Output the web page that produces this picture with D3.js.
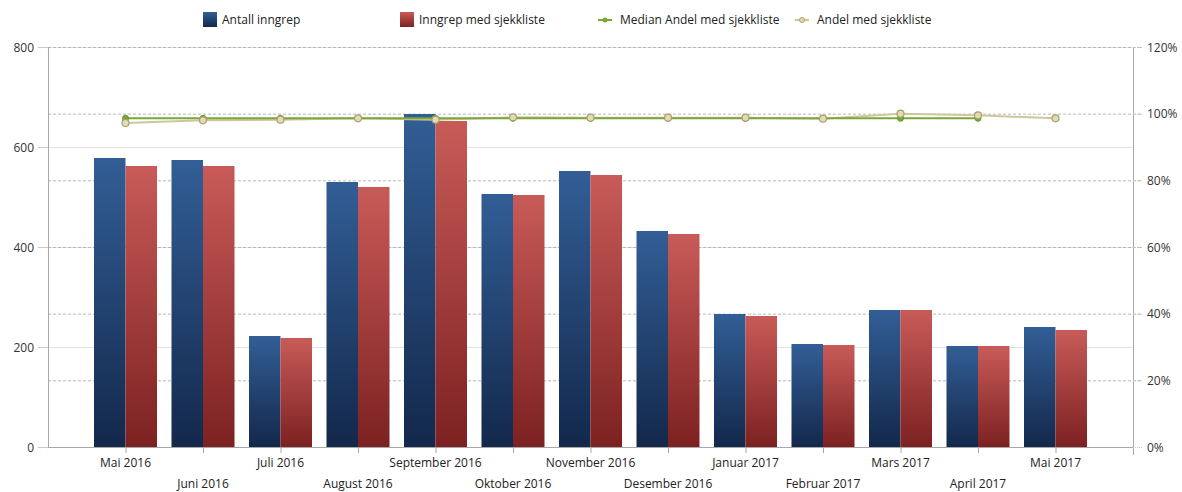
<!DOCTYPE html>
<html><head><meta charset="utf-8">
<script src="https://cdn.jsdelivr.net/npm/d3@7"></script>
<style>body{margin:0;background:#fff}svg{font-family:"Open Sans",sans-serif}</style>
</head><body>
<svg id="c" width="1182" height="492"></svg>
<script>
const months = ["Mai 2016","Juni 2016","Juli 2016","August 2016","September 2016","Oktober 2016","November 2016","Desember 2016","Januar 2017","Februar 2017","Mars 2017","April 2017","Mai 2017"];
const antall = [578,574,222,530,666,506,552,432,266,206,274,202,240];
const medSjekk = [562,562,218,520,652,504,544,426,262,204,274,202,234];
const andel = [97.2,98.0,98.2,98.6,98.2,98.9,98.8,98.8,98.8,98.5,100,99.5,98.6];
const median = [98.6,98.6,98.6,98.6,98.6,98.6,98.6,98.6,98.6,98.6,98.6,98.6,null];
const leftTicks = [0,200,400,600,800];
const rightTicks = [0,20,40,60,80,100,120];
const legendLabels = ["Antall inngrep","Inngrep med sjekkliste","Median Andel med sjekkliste","Andel med sjekkliste"];

const svg = d3.select("#c");
const L = 48, R = 1133, T = 47, B = 447;
const x = d3.scalePoint().domain(months).range([L, R]).padding(1);
const yL = d3.scaleLinear().domain([0, 800]).range([B, T]);
const yR = d3.scaleLinear().domain([0, 120]).range([B, T]);
const bw = 31.5;

const defs = svg.append("defs");
function grad(id, c1, c2) {
  const g = defs.append("linearGradient").attr("id", id).attr("x1",0).attr("y1",0).attr("x2",0).attr("y2",1);
  g.append("stop").attr("offset","0%").attr("stop-color",c1);
  g.append("stop").attr("offset","100%").attr("stop-color",c2);
}
grad("gb", "#325e96", "#13284b");
grad("gr", "#c85b58", "#7c2121");

// left gridlines (solid)
svg.append("g").selectAll("line").data(leftTicks.filter(d => d > 0)).join("line")
  .attr("x1", L).attr("x2", R).attr("y1", d => yL(d) + 0.5).attr("y2", d => yL(d) + 0.5)
  .attr("stroke", "#e2e2e2");
// right gridlines (dashed)
svg.append("g").selectAll("line").data(rightTicks.filter(d => d > 0)).join("line")
  .attr("x1", L).attr("x2", R + 8).attr("y1", d => yR(d) + 0.5).attr("y2", d => yR(d) + 0.5)
  .attr("stroke", "#b8b8b8").attr("stroke-dasharray", "3,2");

// bars
svg.append("g").selectAll("rect").data(months).join("rect")
  .attr("x", d => x(d) - bw).attr("width", bw)
  .attr("y", (d, i) => yL(antall[i])).attr("height", (d, i) => B - yL(antall[i]))
  .attr("fill", "url(#gb)");
svg.append("g").selectAll("rect").data(months).join("rect")
  .attr("x", d => x(d)).attr("width", bw)
  .attr("y", (d, i) => yL(medSjekk[i])).attr("height", (d, i) => B - yL(medSjekk[i]))
  .attr("fill", "url(#gr)");

// axes lines
svg.append("line").attr("x1", L + 0.5).attr("x2", L + 0.5).attr("y1", T).attr("y2", B).attr("stroke", "#a8a8a8");
svg.append("line").attr("x1", R + 0.5).attr("x2", R + 0.5).attr("y1", T).attr("y2", B + 8).attr("stroke", "#a8a8a8");
svg.append("line").attr("x1", L).attr("x2", R).attr("y1", B + 0.5).attr("y2", B + 0.5).attr("stroke", "#a8a8a8");

// left ticks and labels
const gl = svg.append("g");
gl.selectAll("line").data(leftTicks).join("line")
  .attr("x1", L - 10).attr("x2", L).attr("y1", d => yL(d) + 0.5).attr("y2", d => yL(d) + 0.5)
  .attr("stroke", "#c8c8c8");
gl.selectAll("text").data(leftTicks).join("text")
  .attr("x", 34).attr("y", d => yL(d) + 4.5).attr("text-anchor", "end")
  .attr("font-size", 12).attr("fill", "#333").text(d => d);

// right labels
const gr = svg.append("g");
gr.selectAll("line").data(rightTicks).join("line")
  .attr("x1", R).attr("x2", R + 10).attr("y1", d => yR(d) + 0.5).attr("y2", d => yR(d) + 0.5)
  .attr("stroke", "#c8c8c8").attr("stroke-dasharray", "1,1");
gr.selectAll("text").data(rightTicks).join("text")
  .attr("x", 1147).attr("y", d => yR(d) + 4.5)
  .attr("font-size", 12).attr("fill", "#333").text(d => d + "%");

// x ticks and labels
const gx = svg.append("g");
gx.selectAll("line").data(months).join("line")
  .attr("x1", d => x(d) + 0.5).attr("x2", d => x(d) + 0.5).attr("y1", B).attr("y2", B + 6)
  .attr("stroke", "#a8a8a8");
gx.selectAll("text").data(months).join("text")
  .attr("x", d => x(d)).attr("y", (d, i) => i % 2 === 0 ? 467 : 488)
  .attr("text-anchor", "middle").attr("font-size", 12).attr("fill", "#222").text(d => d);

// lines
const andelC = "#cfc79a", medC = "#7aa63a";
const lineA = d3.line().x((d, i) => x(months[i])).y(d => yR(d)).defined(d => d != null);
svg.append("path").datum(andel).attr("d", lineA).attr("fill", "none").attr("stroke", andelC).attr("stroke-width", 2);
svg.append("path").datum(median).attr("d", lineA).attr("fill", "none").attr("stroke", medC).attr("stroke-width", 2);
svg.append("g").selectAll("circle").data(median.map((v, i) => [v, i]).filter(d => d[0] != null)).join("circle")
  .attr("cx", d => x(months[d[1]])).attr("cy", d => yR(d[0])).attr("r", 3)
  .attr("fill", medC).attr("stroke", "#6b9430");
svg.append("g").selectAll("circle").data(andel).join("circle")
  .attr("cx", (d, i) => x(months[i])).attr("cy", d => yR(d)).attr("r", 3.5)
  .attr("fill", "#e2dcb4").attr("stroke", "#a8a070").attr("stroke-width", 1.2);

// legend
const lg = svg.append("g").attr("font-size", 12).attr("fill", "#222");
lg.append("rect").attr("x", 203).attr("y", 12).attr("width", 14).attr("height", 15).attr("fill", "url(#gb)");
lg.append("text").attr("x", 222).attr("y", 24).text(legendLabels[0]);
lg.append("rect").attr("x", 400).attr("y", 12).attr("width", 14).attr("height", 15).attr("fill", "url(#gr)");
lg.append("text").attr("x", 419).attr("y", 24).text(legendLabels[1]);
lg.append("line").attr("x1", 598).attr("x2", 612).attr("y1", 20).attr("y2", 20).attr("stroke", medC).attr("stroke-width", 2);
lg.append("circle").attr("cx", 605).attr("cy", 20).attr("r", 2.5).attr("fill", medC);
lg.append("text").attr("x", 620).attr("y", 24).text(legendLabels[2]);
lg.append("line").attr("x1", 795).attr("x2", 809).attr("y1", 20).attr("y2", 20).attr("stroke", andelC).attr("stroke-width", 2);
lg.append("circle").attr("cx", 802).attr("cy", 20).attr("r", 2.5).attr("fill", "#e2dcb4").attr("stroke", "#a8a070");
lg.append("text").attr("x", 817).attr("y", 24).text(legendLabels[3]);
</script>
</body></html>
